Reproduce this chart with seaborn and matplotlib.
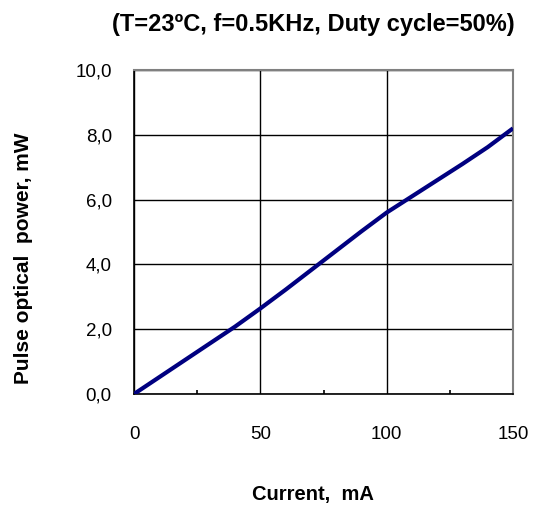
import matplotlib
matplotlib.use("Agg")
import matplotlib.pyplot as plt
import seaborn as sns
import pandas as pd
from matplotlib.ticker import FuncFormatter, MultipleLocator

# datos
corriente_ma = [0, 10, 20, 30, 40, 50, 60, 70, 80, 90, 100, 110, 120, 130, 140, 150]
potencia_mw = [0.0, 0.52, 1.04, 1.56, 2.08, 2.64, 3.22, 3.82, 4.42, 5.02, 5.6, 6.1, 6.6, 7.1, 7.62, 8.2]
x_ticks = [0, 50, 100, 150]
y_ticks = [0, 2, 4, 6, 8, 10]

df = pd.DataFrame({"Current": corriente_ma, "Power": potencia_mw})

sns.set_style("white")
plt.rcParams["font.family"] = ["Liberation Sans", "DejaVu Sans"]
plt.rcParams["text.color"] = "black"
plt.rcParams["axes.labelcolor"] = "black"
plt.rcParams["xtick.color"] = "black"
plt.rcParams["ytick.color"] = "black"

fig = plt.figure(figsize=(5.35, 5.07), dpi=100)
# área del gráfico: x 134-513 px, y 70-394 px
ax = fig.add_axes([0.2505, 0.2229, 0.7084, 0.639])

sns.lineplot(data=df, x="Current", y="Power", ax=ax, color="#000080",
             linewidth=3.0, solid_capstyle="butt", zorder=3)

ax.set_xlim(0, 150)
ax.set_ylim(0, 10)
ax.set_xticks(x_ticks)
ax.set_yticks(y_ticks)
ax.xaxis.set_minor_locator(MultipleLocator(25))
ax.yaxis.set_major_formatter(FuncFormatter(lambda v, p: f"{v:.1f}".replace(".", ",")))

ax.grid(True, which="major", color="black", linewidth=1.0)
for lado in ["left", "bottom"]:
    ax.spines[lado].set_color("black")
    ax.spines[lado].set_linewidth(1.2)
for lado in ["top", "right"]:
    ax.spines[lado].set_color("#808080")
    ax.spines[lado].set_linewidth(1.5)

ax.tick_params(axis="y", which="major", direction="out", length=5, width=1.2,
               colors="black", pad=11, labelsize=13.5)
ax.tick_params(axis="x", which="major", direction="out", length=6, width=1.2,
               colors="black", pad=17, labelsize=13.5)
ax.tick_params(axis="x", which="minor", direction="in", length=3, width=1.2,
               color="black", bottom=True)

fig.text(0.586, 0.951, "(T=23ºC, f=0.5KHz, Duty cycle=50%)", fontsize=17,
         fontweight="bold", ha="center", va="center", color="black")
ax.set_xlabel("Current,  mA", fontsize=14.5, fontweight="bold", color="black")
ax.set_ylabel("Pulse optical  power, mW", fontsize=15, fontweight="bold", color="black")
ax.xaxis.set_label_coords(0.472, -0.281)
ax.yaxis.set_label_coords(-0.266, 0.42)

fig.savefig("out.png", dpi=100)
